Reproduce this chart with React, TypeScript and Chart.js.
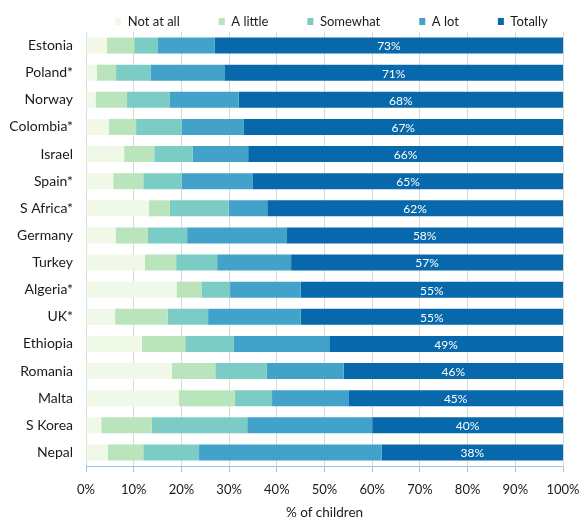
import React, { useEffect, useRef } from "react";
import { Chart, registerables } from "chart.js";

Chart.register(...registerables);

const countries = ["Estonia", "Poland*", "Norway", "Colombia*", "Israel", "Spain*", "S Africa*", "Germany", "Turkey", "Algeria*", "UK*", "Ethiopia", "Romania", "Malta", "S Korea", "Nepal"];
const notAtAll = [4.4, 2.3, 2.0, 4.8, 8.0, 5.7, 13.2, 6.2, 12.3, 19.0, 6.1, 11.7, 18.0, 19.5, 3.2, 4.6];
const aLittle = [5.7, 4.0, 6.6, 5.7, 6.3, 6.3, 4.4, 6.8, 6.6, 5.2, 11.0, 9.1, 9.1, 11.7, 10.6, 7.4];
const somewhat = [5.0, 7.2, 9.0, 9.6, 8.1, 8.1, 12.3, 8.2, 8.6, 6.0, 8.5, 10.2, 10.8, 7.8, 20.0, 11.7];
const aLot = [11.9, 15.5, 14.4, 12.9, 11.6, 14.9, 8.1, 20.8, 15.5, 14.8, 19.4, 20.0, 16.1, 16.0, 26.2, 38.3];
const totally = [73, 71, 68, 67, 66, 65, 62, 58, 57, 55, 55, 49, 46, 45, 40, 38];
const seriesNames = ["Not at all", "A little", "Somewhat", "A lot", "Totally"];
const seriesColors = ["#f0f9e8", "#bae4bc", "#7bccc4", "#43a2ca", "#0868ac"];
const axisTitle = "% of children";

const FONT = "Lato, 'Open Sans', sans-serif";

const legendShift = {
  id: "legendShift",
  afterLayout(chart: any) {
    const lg = chart.legend;
    if (!lg) return;
    const pad = lg.options.labels.padding;
    const center = 331.5;
    const dx = center - (lg.left + lg.right) / 2;
    lg.left += dx;
    lg.right += dx;
    const itemH = 13;
    lg.top = 21.5 - itemH / 2 - pad;
  },
};

const totalLabels = {
  id: "totalLabels",
  afterDatasetsDraw(chart: any) {
    const ctx = chart.ctx;
    const idx = chart.data.datasets.length - 1;
    const meta = chart.getDatasetMeta(idx);
    const data = chart.data.datasets[idx].data;
    ctx.save();
    ctx.fillStyle = "#ffffff";
    ctx.font = `12px ${FONT}`;
    ctx.textAlign = "center";
    ctx.textBaseline = "middle";
    meta.data.forEach((el: any, i: number) => {
      const p = el.getProps(["x", "y", "base"], true);
      ctx.fillText(`${data[i]}%`, (p.x + p.base) / 2, p.y + 1);
    });
    ctx.restore();
  },
};

export default function App() {
  const ref = useRef<HTMLCanvasElement | null>(null);
  useEffect(() => {
    if (!ref.current) return;
    const values = [notAtAll, aLittle, somewhat, aLot, totally];
    const chart = new Chart(ref.current, {
      type: "bar",
      data: {
        labels: countries,
        datasets: seriesNames.map((name, i) => ({
          label: name,
          data: values[i],
          backgroundColor: seriesColors[i],
          borderWidth: 0,
          categoryPercentage: 1,
          barPercentage: 0.59,
        })),
      },
      options: {
        indexAxis: "y",
        animation: false,
        responsive: true,
        maintainAspectRatio: false,
        layout: { padding: { left: 0, right: 18, top: 0, bottom: 0 } },
        plugins: {
          tooltip: { enabled: false },
          legend: {
            position: "top",
            maxHeight: 32,
            labels: {
              boxWidth: 6,
              boxHeight: 7,
              padding: 39,
              color: "#1a1a1a",
              font: { family: FONT, size: 13 },
            },
          },
        },
        scales: {
          x: {
            stacked: true,
            min: 0,
            max: 100,
            ticks: {
              stepSize: 10,
              padding: 10,
              color: "#1a1a1a",
              font: { family: FONT, size: 13 },
              callback: (v: any) => `${v}%`,
            },
            grid: {
              color: "#d9d9d9",
              tickColor: "#9dc3e6",
              tickLength: 6,
              lineWidth: 1,
            },
            border: { color: "#9dc3e6", width: 1 },
            title: {
              display: true,
              text: axisTitle,
              color: "#1a1a1a",
              font: { family: FONT, size: 13.5 },
              padding: { top: 0, bottom: 2 },
            },
            afterFit: (s: any) => {
              s.height = 523 - 466;
              s.paddingLeft = 0;
              s.paddingRight = 0;
            },
          },
          y: {
            stacked: true,
            grid: { display: false, drawTicks: false },
            border: { display: false },
            ticks: {
              padding: 13,
              color: "#1a1a1a",
              font: { family: FONT, size: 14 },
            },
            afterFit: (s: any) => {
              s.width = 86;
            },
          },
        },
      },
      plugins: [legendShift, totalLabels],
    });
    return () => chart.destroy();
  }, []);

  return (
    <div style={{ position: "fixed", left: 0, top: 0, width: 581, height: 523 }}>
      <canvas ref={ref} />
    </div>
  );
}
